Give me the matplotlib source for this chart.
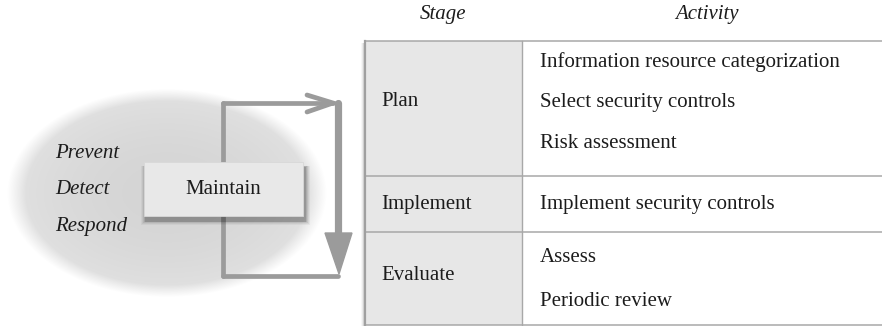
import numpy as np
import matplotlib
matplotlib.use("Agg")
import matplotlib.pyplot as plt
from matplotlib.patches import Rectangle, Polygon
from matplotlib.lines import Line2D
from matplotlib import font_manager as fm

# ---- content ----
headers = ["Stage", "Activity"]
stages = ["Plan", "Implement", "Evaluate"]
activities = [
    ["Information resource categorization", "Select security controls", "Risk assessment"],
    ["Implement security controls"],
    ["Assess", "Periodic review"],
]
cycle_words = ["Prevent", "Detect", "Respond"]
center_label = "Maintain"

# ---- layout (pixels) ----
W, H = 882, 326
FS = 15
ARROW_C = "#9b9b9b"
TXT_C = "#1c1c1c"


def serif_font(italic=False):
    style = "italic" if italic else "normal"
    for fam in ["Liberation Serif", "DejaVu Serif"]:
        try:
            p = fm.findfont(fm.FontProperties(family=fam, style=style), fallback_to_default=False)
            return fm.FontProperties(fname=p, size=FS)
        except Exception:
            continue
    return fm.FontProperties(family="serif", style=style, size=FS)


FP = serif_font(False)
FPI = serif_font(True)

fig = plt.figure(figsize=(W / 100, H / 100), dpi=100)
ax = fig.add_axes([0, 0, 1, 1])
ax.set_xlim(0, W)
ax.set_ylim(H, 0)
ax.axis("off")

# soft gradient ellipse
cx, cy, rx, ry = 167, 193, 155, 101
X, Y = np.meshgrid(np.arange(W) + 0.5, np.arange(H) + 0.5)
r = np.sqrt(((X - cx) / rx) ** 2 + ((Y - cy) / ry) ** 2)
shade = np.clip((1.03 - r) / 0.12, 0, 1)
inner = 0.835 + 0.05 * np.clip(r, 0, 1) ** 2
val = 1 - shade * (1 - inner)
img = np.dstack([val, val, val, np.ones_like(val)])
ax.imshow(img, extent=(0, W, H, 0), interpolation="bilinear", zorder=0)

# cycle arrows
lx, rxl, ty, by = 223, 338, 103, 276
ax.add_line(Line2D([lx, lx], [ty, by], color=ARROW_C, lw=3.4, solid_capstyle="round", zorder=2))
ax.add_line(Line2D([lx, 333], [ty, ty], color=ARROW_C, lw=3.4, solid_capstyle="round", zorder=2))
ax.add_line(Line2D([lx, rxl], [by, by], color=ARROW_C, lw=3.4, solid_capstyle="round", zorder=2))
ax.add_line(Line2D([307, 333, 307], [95, ty, 112], color=ARROW_C, lw=3.4,
                   solid_capstyle="round", solid_joinstyle="miter", zorder=2))
ax.add_line(Line2D([rxl, rxl], [ty, 240], color=ARROW_C, lw=5.2, solid_capstyle="round", zorder=2))
ax.add_patch(Polygon([[325, 233], [352, 233], [339, 274]], closed=True, color=ARROW_C, zorder=2))

# Maintain box with shadow
bx0, by0, bx1, by1 = 144, 162, 303, 216
for i, a in enumerate([0.04, 0.05, 0.07, 0.09, 0.12]):
    s = 5 - i
    ax.add_patch(Rectangle((bx0 + 2 - s, by0 + 5 - s * 0.3), bx1 - bx0 + 2 * s, by1 - by0 + s,
                           facecolor="#000000", alpha=a, edgecolor="none", zorder=3))
ax.add_patch(Rectangle((bx0, by0), bx1 - bx0, by1 - by0, facecolor="#e8e8e8",
                       edgecolor="#d8d8d8", lw=0.6, zorder=4))
ax.text((bx0 + bx1) / 2, (by0 + by1) / 2 + 1, center_label, ha="center", va="center",
        fontproperties=FP, color=TXT_C, zorder=5)

for i, w in enumerate(cycle_words):
    ax.text(55, 153 + 37 * i, w, ha="left", va="center", fontproperties=FPI,
            color=TXT_C, zorder=5)

# table
tx0, tx1, tx2 = 365, 522, 882
row_y = [41, 176, 232, 325]
for i, a in enumerate([0.03, 0.05, 0.08]):
    ax.add_patch(Rectangle((tx0 - 4 + i, row_y[0] + 2), 4 - i, row_y[-1] - row_y[0],
                           facecolor="#000000", alpha=a, edgecolor="none", zorder=1))
ax.add_patch(Rectangle((tx0, row_y[0]), tx1 - tx0, row_y[-1] - row_y[0],
                       facecolor="#e7e7e7", edgecolor="none", zorder=1))
ax.add_patch(Rectangle((tx1, row_y[0]), tx2 - tx1, row_y[-1] - row_y[0],
                       facecolor="#ffffff", edgecolor="none", zorder=1))
for yy in row_y:
    ax.add_line(Line2D([tx0, tx2], [yy, yy], color="#a8a8a8", lw=1.1, zorder=2))
ax.add_line(Line2D([tx0, tx0], [row_y[0], row_y[-1]], color="#a0a0a0", lw=1.6, zorder=2))
ax.add_line(Line2D([tx1, tx1], [row_y[0], row_y[-1]], color="#a8a8a8", lw=1.0, zorder=2))

ax.text(443, 15, headers[0], ha="center", va="center", fontproperties=FPI, color=TXT_C)
ax.text(707, 15, headers[1], ha="center", va="center", fontproperties=FPI, color=TXT_C)

stage_y = [102, 205, 275]
act_y = [[62, 102, 143], [205], [257, 302]]
for s, sy, acts, ays in zip(stages, stage_y, activities, act_y):
    ax.text(381, sy, s, ha="left", va="center", fontproperties=FP, color=TXT_C, zorder=5)
    for a, ay in zip(acts, ays):
        ax.text(540, ay, a, ha="left", va="center", fontproperties=FP, color=TXT_C, zorder=5)

fig.savefig("out.png", dpi=100)
